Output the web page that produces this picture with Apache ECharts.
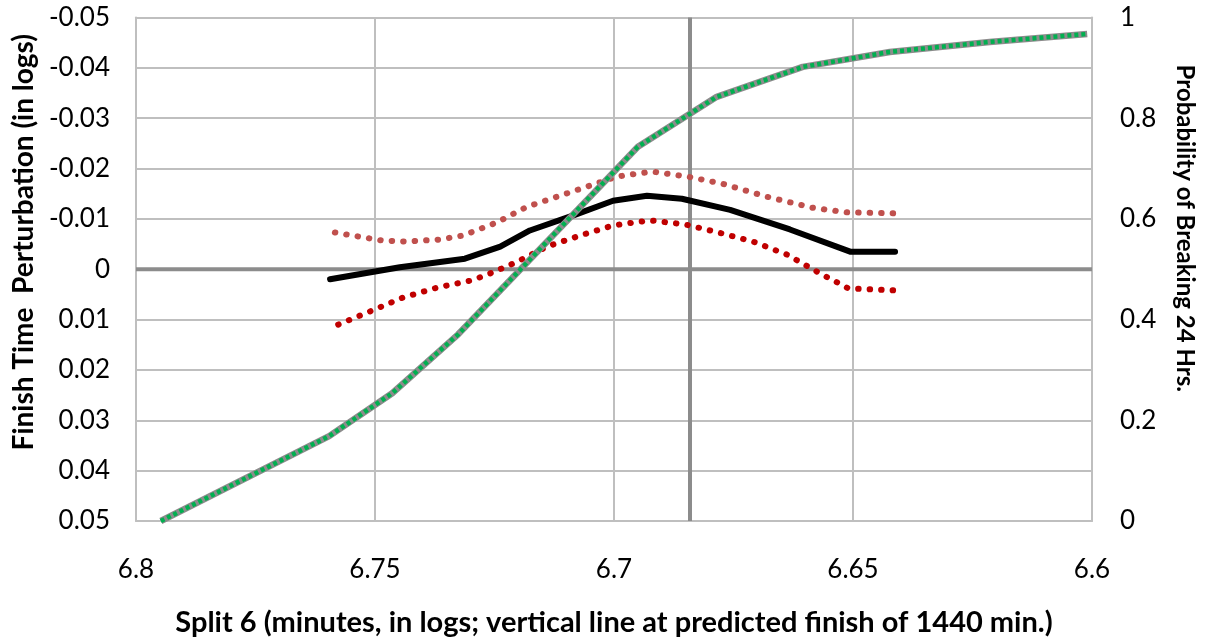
<!DOCTYPE html>
<html>
<head>
<meta charset="utf-8">
<script src="https://cdn.jsdelivr.net/npm/echarts@6/dist/echarts.min.js"></script>
<style>
html,body{margin:0;padding:0;background:#fff;}
#chart{width:1208px;height:642px;}
</style>
</head>
<body>
<div id="chart"></div>
<script>
// ---- Data ----
const xTicks = [6.8, 6.75, 6.7, 6.65, 6.6];
const predictedFinishSplit = 6.6841;

const meanX = [6.7594, 6.7448, 6.7312, 6.7238, 6.7176, 6.7082, 6.7002, 6.6931, 6.6858, 6.6757, 6.6632, 6.6506, 6.6412];
const meanY = [0.0020, -0.0004, -0.0021, -0.0045, -0.0077, -0.0108, -0.0136, -0.0146, -0.0140, -0.0118, -0.0079, -0.0035, -0.0035];

const upperX = [6.7584, 6.7485, 6.7437, 6.7364, 6.7316, 6.7245, 6.7182, 6.7088, 6.6994, 6.6920, 6.6847, 6.6774, 6.6680, 6.6584, 6.6513, 6.6412];
const upperY = [-0.0073, -0.0057, -0.0055, -0.0059, -0.0067, -0.0093, -0.0124, -0.0154, -0.0184, -0.0194, -0.0184, -0.0170, -0.0144, -0.0122, -0.0113, -0.0111];

const lowerX = [6.7577, 6.7506, 6.7441, 6.7368, 6.7297, 6.7253, 6.7207, 6.7140, 6.7071, 6.7002, 6.6925, 6.6851, 6.6782, 6.6709, 6.6638, 6.6575, 6.6510, 6.6412];
const lowerY = [0.0110, 0.0082, 0.0056, 0.0036, 0.0022, 0.0006, -0.0013, -0.0045, -0.0067, -0.0087, -0.0097, -0.0089, -0.0073, -0.0055, -0.0029, 0.0005, 0.0038, 0.0042];

const probX = [6.7948, 6.7596, 6.7464, 6.7326, 6.7186, 6.7046, 6.6950, 6.6785, 6.6605, 6.6423, 6.6214, 6.6010];
const probY = [0.0, 0.1685, 0.2537, 0.3707, 0.5094, 0.6482, 0.7433, 0.8424, 0.9019, 0.9316, 0.9515, 0.9673];

// reference lines (zero line and predicted-finish vertical line)
const zeroLine = [[6.6, 0], [6.8, 0]];
const finishLine = [[predictedFinishSplit, -0.05], [predictedFinishSplit, 0.05]];

const zip = (a, b) => a.map((v, i) => [v, b[i]]);

const font = 'Lato, "Noto Sans", sans-serif';
const gridColor = '#bfbfbf';

const chart = echarts.init(document.getElementById('chart'), null, {renderer: 'canvas'});
const fmt = v => {
  if (Math.abs(v) < 1e-9) return '0';
  return String(parseFloat(v.toFixed(2)));
};

chart.setOption({
  backgroundColor: '#fff',
  animation: false,
  grid: {left: 136, right: 116, top: 17.5, bottom: 120, containLabel: false},
  xAxis: {
    type: 'value', inverse: true, min: 6.6, max: 6.8, interval: 0.05,
    axisLine: {show: true, onZero: false, lineStyle: {color: gridColor, width: 2}},
    axisTick: {show: false},
    splitLine: {show: true, lineStyle: {color: gridColor, width: 2}},
    axisLabel: {formatter: fmt, color: '#000', fontFamily: font, fontSize: 26, margin: 36},
    name: 'Split 6 (minutes, in logs; vertical line at predicted finish of 1440 min.)',
    nameLocation: 'middle', nameGap: 87,
    nameTextStyle: {color: '#000', fontFamily: font, fontSize: 29, fontWeight: 'bold'}
  },
  yAxis: [{
    type: 'value', inverse: true, min: -0.05, max: 0.05, interval: 0.01,
    axisLine: {show: true, lineStyle: {color: gridColor, width: 2}},
    axisTick: {show: false},
    splitLine: {show: true, lineStyle: {color: gridColor, width: 2}},
    axisLabel: {formatter: fmt, color: '#000', fontFamily: font, fontSize: 26, margin: 26},
    name: 'Finish Time  Perturbation (in logs)',
    nameLocation: 'middle', nameGap: 94, nameRotate: 90,
    nameTextStyle: {color: '#000', fontFamily: font, fontSize: 28, fontWeight: 'bold', padding: [0, 0, 0, 54]}
  }, {
    type: 'value', min: 0, max: 1, interval: 0.2, position: 'right',
    axisLine: {show: true, lineStyle: {color: gridColor, width: 2}},
    axisTick: {show: false},
    splitLine: {show: false},
    axisLabel: {formatter: fmt, color: '#000', fontFamily: font, fontSize: 26, margin: 28},
    name: 'Probability of Breaking 24 Hrs.',
    nameLocation: 'middle', nameGap: 81, nameRotate: -90,
    nameTextStyle: {color: '#000', fontFamily: font, fontSize: 24, fontWeight: 'bold', padding: [0, 82, 0, 0]}
  }],
  series: [
    {
      name: 'Zero', type: 'line', data: zeroLine, yAxisIndex: 0, z: 1, silent: true,
      showSymbol: false, lineStyle: {color: '#8c8c8c', width: 4}
    },
    {
      name: 'Finish', type: 'line', data: finishLine, yAxisIndex: 0, z: 1, silent: true,
      showSymbol: false, lineStyle: {color: '#8c8c8c', width: 4}
    },
    {
      name: 'Upper', type: 'line', data: zip(upperX, upperY), yAxisIndex: 0, z: 3,
      showSymbol: false,
      lineStyle: {color: '#C0504D', width: 6, type: [0.5, 11], cap: 'round'}
    },
    {
      name: 'Lower', type: 'line', data: zip(lowerX, lowerY), yAxisIndex: 0, z: 3,
      showSymbol: false,
      lineStyle: {color: '#C00000', width: 6, type: [0.5, 11], cap: 'round'}
    },
    {
      name: 'Mean', type: 'line', data: zip(meanX, meanY), yAxisIndex: 0, z: 4,
      showSymbol: false,
      lineStyle: {color: '#000', width: 6, cap: 'round', join: 'round'}
    },
    {
      name: 'ProbBase', type: 'line', data: zip(probX, probY), yAxisIndex: 1, z: 5,
      showSymbol: false,
      lineStyle: {color: '#8c8c8c', width: 6.5, join: 'round'}
    },
    {
      name: 'Prob', type: 'line', data: zip(probX, probY), yAxisIndex: 1, z: 6,
      showSymbol: false,
      lineStyle: {color: '#00B050', width: 4.5, type: [4, 3]}
    }
  ]
});
</script>
</body>
</html>
